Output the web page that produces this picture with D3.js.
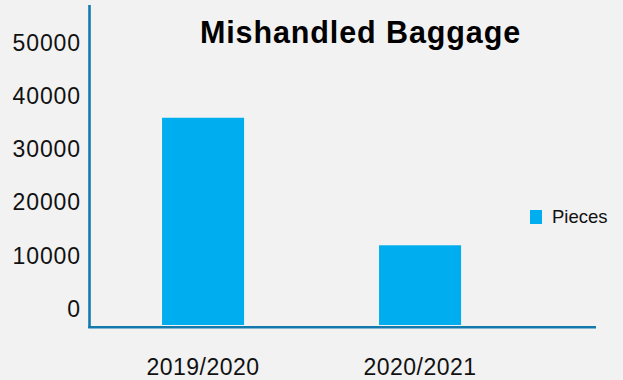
<!DOCTYPE html>
<html>
<head>
<meta charset="utf-8">
<script src="https://cdn.jsdelivr.net/npm/d3@7/dist/d3.min.js"></script>
<style>
  html, body { margin: 0; padding: 0; background: #f2f2f2; }
  svg { display: block; font-family: "Liberation Sans", Arial, sans-serif; }
</style>
</head>
<body>
<svg id="chart" width="623" height="380"></svg>
<script>
// Data
const seasons = ["2019/2020", "2020/2021"];
const pieces = [39000, 15000];
const yTicks = [0, 10000, 20000, 30000, 40000, 50000];
const seriesName = "Pieces";
const title = "Mishandled Baggage";

const W = 623, H = 380;
const svg = d3.select("#chart");

svg.append("rect").attr("width", W).attr("height", H).attr("fill", "#f2f2f2");

const axisX = 89.5;      // vertical axis position
const baseY = 325;       // value-zero baseline (top of horizontal axis)
const pxPer10k = 53.14;

const y = d3.scaleLinear()
  .domain([0, 10000])
  .range([baseY, baseY - pxPer10k]);

const x = d3.scaleBand()
  .domain(seasons)
  .range([92.6, 530.5])
  .paddingInner(0.622)
  .paddingOuter(0.32);

const barColor = "#00aeef";
const axisColor = "#137aae";

// Bars
svg.append("g").selectAll("rect")
  .data(seasons)
  .join("rect")
  .attr("x", d => x(d))
  .attr("width", x.bandwidth())
  .attr("y", (d, i) => y(pieces[i]))
  .attr("height", (d, i) => baseY - y(pieces[i]))
  .attr("fill", barColor);

// Y tick labels (drawn above their tick positions)
const yAxis = d3.axisLeft(y).tickValues(yTicks).tickSize(0).tickPadding(0)
  .tickFormat(d3.format("d"));
const gy = svg.append("g").attr("transform", `translate(81,0)`).call(yAxis);
gy.select(".domain").remove();
gy.selectAll("text")
  .attr("font-size", 23)
  .attr("font-family", "Liberation Sans, Arial, sans-serif")
  .attr("letter-spacing", "0.9px")
  .attr("fill", "#111")
  .attr("dy", "0.33em")
  .attr("transform", "translate(0,-16.4)");

// X tick labels
const xAxis = d3.axisBottom(x).tickSize(0).tickPadding(0);
const gx = svg.append("g").attr("transform", `translate(0,${baseY})`).call(xAxis);
gx.select(".domain").remove();
gx.selectAll("text")
  .attr("font-size", 23)
  .attr("font-family", "Liberation Sans, Arial, sans-serif")
  .attr("letter-spacing", "0.5px")
  .attr("fill", "#111")
  .attr("dy", 0)
  .attr("y", 50);

// Axis lines
svg.append("line")
  .attr("x1", axisX).attr("x2", axisX)
  .attr("y1", 5).attr("y2", 328)
  .attr("stroke", axisColor).attr("stroke-width", 2.6);
svg.append("line")
  .attr("x1", axisX - 1.3).attr("x2", 596)
  .attr("y1", baseY + 2.3).attr("y2", baseY + 2.3)
  .attr("stroke", axisColor).attr("stroke-width", 2.6);

// Title
svg.append("text")
  .attr("x", 360.5).attr("y", 43)
  .attr("text-anchor", "middle")
  .attr("font-size", 30.5)
  .attr("font-weight", "bold")
  .attr("letter-spacing", "0.9px")
  .attr("fill", "#000")
  .text(title);

// Legend
const lg = svg.append("g").attr("transform", "translate(530,210)");
lg.append("rect").attr("width", 12).attr("height", 14).attr("fill", barColor);
lg.append("text").attr("x", 22).attr("y", 13.3)
  .attr("font-size", 18.5).attr("fill", "#111").text(seriesName);
</script>
</body>
</html>
